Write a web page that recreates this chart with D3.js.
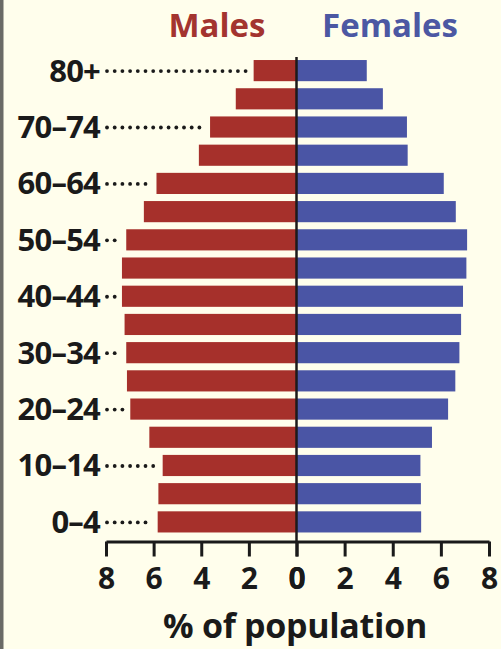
<!DOCTYPE html>
<html>
<head>
<meta charset="utf-8">
<script src="https://cdn.jsdelivr.net/npm/d3@7"></script>
<style>
  html, body { margin: 0; padding: 0; background: #fffeec; }
  svg { display: block; }
  text { font-family: "Open Sans", "Liberation Sans", sans-serif; font-weight: 700; }
</style>
</head>
<body>
<svg id="chart" width="501" height="649"></svg>
<script>
const ageGroups = ["80+","75–79","70–74","65–69","60–64","55–59","50–54","45–49","40–44","35–39","30–34","25–29","20–24","15–19","10–14","5–9","0–4"];
const labeledAges = ["80+","70–74","60–64","50–54","40–44","30–34","20–24","10–14","0–4"];
const males   = [1.8, 2.55, 3.63, 4.1, 5.88, 6.41, 7.15, 7.33, 7.33, 7.22, 7.15, 7.12, 6.98, 6.18, 5.62, 5.8, 5.83];
const females = [2.92, 3.59, 4.59, 4.62, 6.12, 6.62, 7.09, 7.06, 6.92, 6.84, 6.77, 6.6, 6.3, 5.63, 5.15, 5.17, 5.18];
const tickValues = [0, 2, 4, 6, 8];
const seriesNames = ["Males", "Females"];

const W = 501, H = 649;
const cx = 296.5;
const maleColor = "#a6302b", femaleColor = "#4a55a5";

const svg = d3.select("#chart");
svg.append("rect").attr("width", W).attr("height", H).attr("fill", "#fffeec");
svg.append("rect").attr("x", 0).attr("y", 0).attr("width", 3.5).attr("height", H).attr("fill", "#6a6a66");

const xL = d3.scaleLinear().domain([0, 8]).range([cx, 106]);
const xR = d3.scaleLinear().domain([0, 8]).range([cx, 489]);
const y = d3.scaleBand().domain(ageGroups).range([56.5, 536]).paddingInner(0.25).paddingOuter(0.125);

// bars
svg.append("g").selectAll("rect").data(ageGroups).join("rect")
  .attr("x", (d, i) => xL(males[i]))
  .attr("y", d => y(d))
  .attr("width", (d, i) => cx - xL(males[i]))
  .attr("height", y.bandwidth())
  .attr("fill", maleColor);
svg.append("g").selectAll("rect").data(ageGroups).join("rect")
  .attr("x", cx)
  .attr("y", d => y(d))
  .attr("width", (d, i) => xR(females[i]) - cx)
  .attr("height", y.bandwidth())
  .attr("fill", femaleColor);

// center line
svg.append("line").attr("x1", cx).attr("x2", cx).attr("y1", 57).attr("y2", 541)
  .attr("stroke", "#1d1a1a").attr("stroke-width", 2.5);

// age labels + dotted leaders
const lab = svg.append("g");
labeledAges.forEach(a => {
  const i = ageGroups.indexOf(a);
  const yc = y(a) + y.bandwidth() / 2;
  lab.append("text").attr("x", 100).attr("y", yc + 11)
    .attr("text-anchor", "end").attr("font-size", 31).attr("fill", "#1a1a1a")
    .attr("letter-spacing", -0.8)
    .text(a);
  const end = xL(males[i]) - 7;
  const dots = d3.range(107, end, 7.7);
  lab.selectAll(null).data(dots).join("circle")
    .attr("cx", d => d).attr("cy", yc + 0.5).attr("r", 1.9).attr("fill", "#1a1a1a");
});

// axes
const axisY = 541.5;
function styleAxis(g) {
  g.select(".domain").attr("stroke", "#1a1a1a").attr("stroke-width", 3);
  g.selectAll(".tick line").attr("stroke", "#1a1a1a").attr("stroke-width", 3);
  g.selectAll(".tick text").attr("font-size", 30).attr("fill", "#1a1a1a")
    .attr("font-family", "'Open Sans', sans-serif").attr("font-weight", 700)
    .attr("dy", 0).attr("y", 47);
}
svg.append("g").attr("transform", `translate(0,${axisY})`)
  .call(d3.axisBottom(xL).tickValues(tickValues).tickSize(15).tickSizeOuter(0).tickFormat(d3.format("d")))
  .call(styleAxis);
svg.append("g").attr("transform", `translate(0,${axisY})`)
  .call(d3.axisBottom(xR).tickValues(tickValues).tickSize(15).tickSizeOuter(0).tickFormat(d3.format("d")))
  .call(styleAxis);

// titles
svg.append("text").attr("x", 217).attr("y", 37).attr("text-anchor", "middle")
  .attr("font-size", 33).attr("fill", "#a3342f").text(seriesNames[0]);
svg.append("text").attr("x", 390).attr("y", 37).attr("text-anchor", "middle")
  .attr("font-size", 33).attr("fill", "#4c58a3").text(seriesNames[1]);

svg.append("text").attr("x", 295).attr("y", 638).attr("text-anchor", "middle")
  .attr("font-size", 34).attr("fill", "#1a1a1a").attr("letter-spacing", -0.3)
  .text("% of population");
</script>
</body>
</html>
